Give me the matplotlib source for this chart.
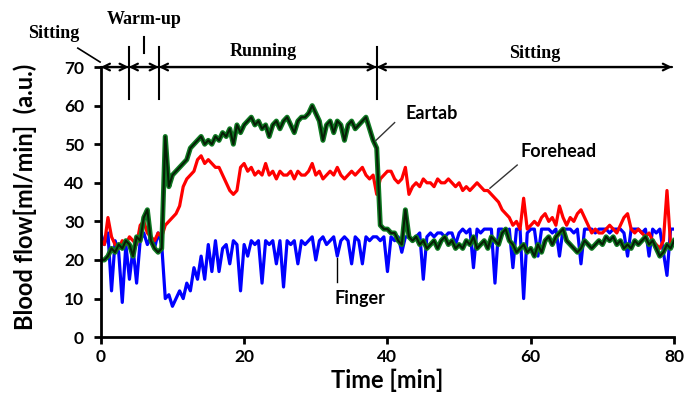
import numpy as np
import matplotlib
matplotlib.use("Agg")
import matplotlib.pyplot as plt

# sampled every 0.5 min, 0..80
time_min = np.arange(0, 80.5, 0.5)

finger = [
    27, 24, 27, 12, 25, 22, 9, 24, 15, 23, 14, 25, 27, 24, 26, 23, 27, 24,
    10, 11, 8, 10, 12, 10, 14, 12, 18, 15, 21, 15, 24, 17, 25, 17, 23, 24,
    19, 25, 24, 12, 24, 21, 25, 24, 25, 14, 25, 24, 25, 19, 25, 13, 25, 24,
    25, 19, 25, 24, 25, 26, 20, 25, 26, 24, 25, 26, 21, 25, 26, 25, 19, 26,
    25, 19, 26, 25, 26, 26, 25, 26, 17, 26, 25, 26, 22, 26, 26, 25, 26, 27,
    15, 26, 27, 26, 27, 27, 26, 27, 27, 24, 27, 28, 27, 28, 18, 28, 27, 28,
    28, 28, 14, 28, 28, 27, 28, 18, 28, 28, 10, 27, 28, 28, 21, 28, 28, 28,
    27, 28, 21, 28, 28, 28, 27, 28, 19, 28, 28, 28, 27, 28, 28, 28, 27, 28,
    28, 28, 27, 21, 28, 28, 28, 27, 28, 21, 28, 27, 28, 22, 16, 28, 28,
]

forehead = [
    25, 24, 31, 26, 24, 23, 25, 24, 26, 25, 24, 29, 30, 27, 26, 25, 27, 26,
    29, 30, 31, 32, 34, 39, 41, 42, 43, 46, 47, 45, 46, 45, 44, 44, 42, 40,
    38, 37, 38, 44, 45, 43, 44, 42, 43, 42, 45, 42, 43, 41, 43, 42, 42, 43,
    41, 43, 42, 42, 43, 45, 42, 43, 41, 42, 43, 42, 44, 42, 41, 42, 43, 42,
    43, 44, 42, 41, 42, 37, 41, 42, 43, 43, 41, 40, 41, 44, 37, 39, 40, 39,
    41, 40, 40, 39, 41, 40, 40, 41, 40, 39, 40, 38, 39, 38, 39, 40, 39, 38,
    38, 37, 36, 35, 33, 32, 31, 29, 30, 28, 36, 28, 29, 30, 29, 31, 32, 30,
    31, 29, 34, 31, 29, 31, 30, 32, 33, 31, 29, 27, 28, 27, 27, 28, 29, 28,
    27, 29, 31, 32, 28, 27, 28, 27, 26, 27, 25, 24, 23, 25, 38, 24, 25,
]

eartab = [
    20, 20, 21, 23, 22, 24, 23, 25, 24, 21, 26, 25, 31, 33, 25, 23, 22, 23,
    52, 39, 42, 43, 44, 45, 46, 49, 50, 51, 52, 50, 51, 50, 52, 51, 53, 52,
    54, 50, 55, 53, 55, 56, 57, 55, 56, 54, 55, 52, 55, 56, 54, 56, 57, 55,
    53, 56, 57, 57, 58, 60, 58, 56, 51, 55, 56, 53, 56, 55, 51, 55, 56, 54,
    55, 56, 57, 54, 51, 49, 29, 28, 28, 27, 27, 25, 24, 33, 26, 25, 26, 24,
    25, 23, 24, 25, 23, 25, 26, 24, 25, 23, 24, 23, 25, 24, 26, 23, 24, 25,
    23, 26, 25, 24, 27, 28, 25, 24, 22, 23, 24, 22, 23, 21, 24, 22, 25, 26,
    24, 26, 27, 28, 25, 24, 23, 22, 23, 25, 24, 23, 24, 25, 24, 26, 25, 26,
    24, 25, 23, 24, 23, 25, 24, 25, 26, 24, 25, 23, 21, 22, 24, 23, 25,
]

# phase boundaries [min]
phase_edges = [0, 3.9, 8.1, 38.5, 79.7]

plt.rcParams['font.family'] = ['Lato', 'DejaVu Sans']

fig = plt.figure(figsize=(6.95, 3.99), dpi=100)
ax = fig.add_axes([0.145, 0.155, 0.825, 0.677])

ax.plot(time_min, finger, color='#0000ff', lw=2.3)
ax.plot(time_min, forehead, color='#ff0000', lw=2.3)
ax.plot(time_min, eartab, color='#0f7a22', lw=3.6)
ax.plot(time_min, eartab, color='#061f06', lw=1.5)

ax.set_xlim(0, 80)
ax.set_ylim(0, 70)
ax.set_xticks([0, 20, 40, 60, 80])
ax.set_yticks(range(0, 71, 10))
for s in ['top', 'right']:
    ax.spines[s].set_visible(False)
for s in ['left', 'bottom']:
    ax.spines[s].set_linewidth(2)
ax.tick_params(direction='out', length=5, width=2, labelsize=12.5)
ax.tick_params(axis='y', pad=7)
for lab in ax.get_xticklabels() + ax.get_yticklabels():
    lab.set_fontweight('bold')

ax.set_xlabel('Time [min]', fontsize=17, fontweight='bold', labelpad=3)
ax.set_ylabel('Blood flow[ml/min]  (a.u.)', fontsize=17, fontweight='bold')
ax.yaxis.set_label_coords(-0.112, 0.52)

# curve labels
ax.text(42.5, 58, 'Eartab', fontsize=13, fontweight='bold', va='center')
ax.plot([38.4, 41.0], [51, 55.6], color='#333333', lw=1)
ax.text(58.5, 48, 'Forehead', fontsize=13, fontweight='bold', va='center')
ax.plot([54.3, 58.1], [38.6, 44.6], color='#333333', lw=1)
ax.text(32.6, 10, 'Finger', fontsize=13, fontweight='bold', va='center')
ax.plot([33, 33], [14.3, 20.5], color='black', lw=1)

# phase arrows above the plot
head = dict(arrowstyle='->', color='black', lw=1.6, mutation_scale=12,
            shrinkA=0, shrinkB=0)
for a, b in zip(phase_edges[:-1], phase_edges[1:]):
    ax.annotate('', xy=(b, 70), xytext=(a, 70), arrowprops=head,
                annotation_clip=False)
    ax.annotate('', xy=(a, 70), xytext=(b, 70), arrowprops=head,
                annotation_clip=False)
for x in phase_edges[1:-1]:
    ax.plot([x, x], [61.7, 75.2], color='black', lw=1.5, clip_on=False)

serif = dict(family='Liberation Serif', fontsize=13, fontweight='bold',
             ha='center', va='center', clip_on=False)
ax.text(-6.6, 78.8, 'Sitting', **serif)
ax.plot([-3.2, -0.1], [74.9, 71.3], color='black', lw=1.2, clip_on=False)
ax.text(6.1, 82.2, 'Warm-up', **serif)
ax.plot([6.0, 6.0], [73.6, 77.8], color='black', lw=1.5, clip_on=False)
ax.text(22.6, 73.9, 'Running', **serif)
ax.text(60.6, 73.5, 'Sitting', **serif)

fig.savefig('out.png', dpi=100)
